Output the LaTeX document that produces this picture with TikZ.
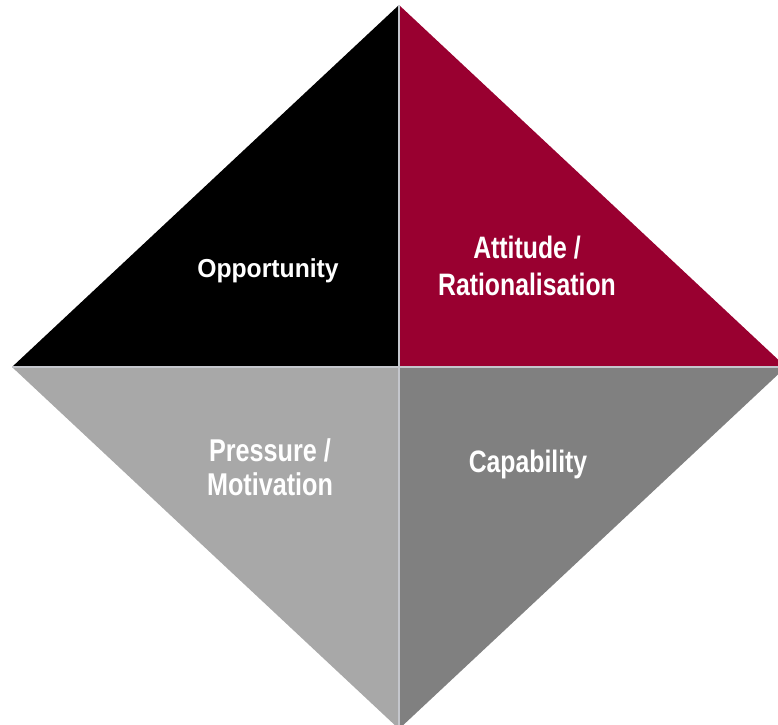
\documentclass[tikz,border=0pt]{standalone}
\usepackage{fontspec}
\setmainfont{Liberation Sans}
\newfontfamily\quadfont{Liberation Sans}[FakeStretch=0.8]
\newfontfamily\widequadfont{Liberation Sans}[FakeStretch=0.95]
\usepackage{xcolor}
\definecolor{maroon}{HTML}{990030}
\definecolor{lightgrey}{HTML}{A8A8A8}
\definecolor{darkgrey}{HTML}{808080}
\definecolor{seamgrey}{HTML}{C4C6CC}

\tikzset{
    quadlabel/.style={text=white, align=center, inner sep=0pt,
        font=\quadfont\bfseries\fontsize{31}{37}\selectfont},
    seam/.style={draw=seamgrey, line width=2.5pt}
}

\begin{document}
\begin{tikzpicture}[x=1pt, y=-1pt]
        \useasboundingbox (0,0) rectangle (778,724);
        % corners of the diamond
        \coordinate (top) at (399,5);
        \coordinate (left) at (12,367);
        \coordinate (right) at (786,367);
        \coordinate (bottom) at (399,729);
        \coordinate (mid) at (399,367);

        % the four quarters
        \fill[black] (top) -- (left) -- (mid) -- cycle;
        \fill[maroon] (top) -- (right) -- (mid) -- cycle;
        \fill[lightgrey] (left) -- (bottom) -- (mid) -- cycle;
        \fill[darkgrey] (right) -- (bottom) -- (mid) -- cycle;
        \draw[seam] (top) -- (bottom);
        \draw[seam] (left) -- (right);

        \node[quadlabel, anchor=base, font=\widequadfont\bfseries\fontsize{26}{30}\selectfont]
            (opportunity) at (268,277) {Opportunity};
        \node[quadlabel] (attitude) at (527,265.5) {Attitude /\\Rationalisation};
        \node[quadlabel, font=\quadfont\bfseries\fontsize{31.5}{34}\selectfont]
            (pressure) at (270,467.5) {Pressure /\\Motivation};
        \node[quadlabel, anchor=base] (capability) at (528,472) {Capability};
    \end{tikzpicture}
\end{document}
